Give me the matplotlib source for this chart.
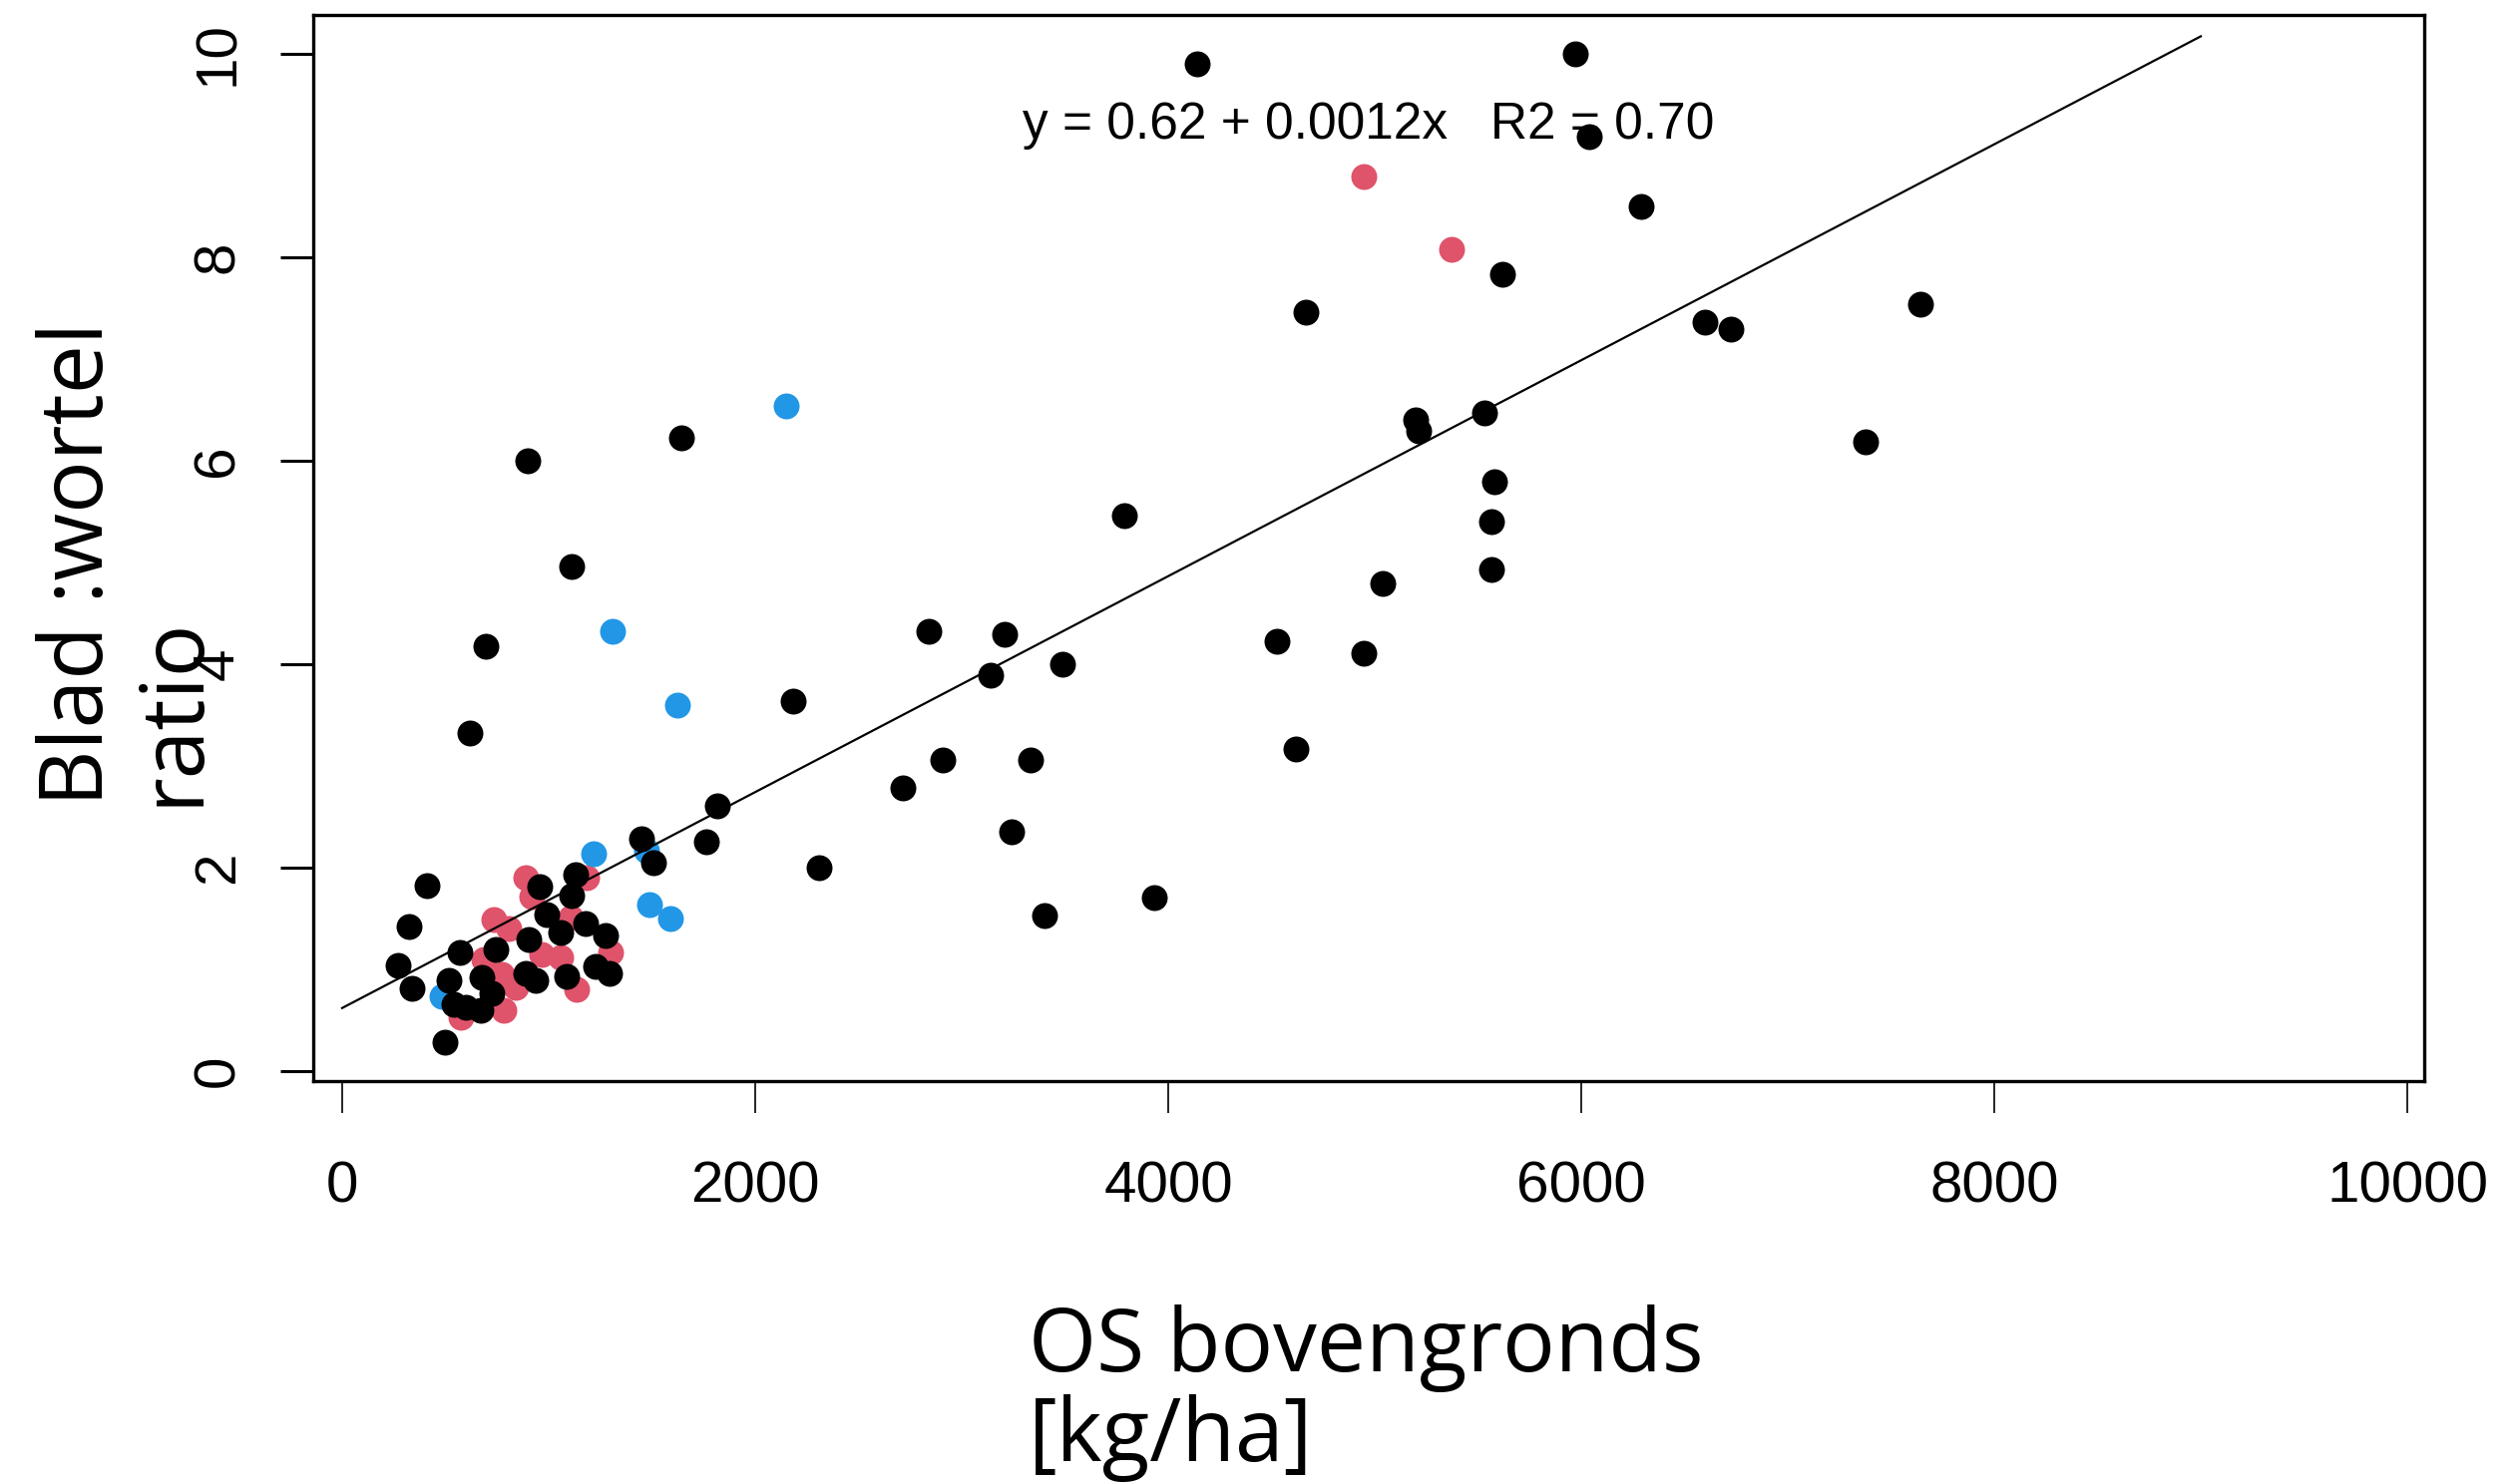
import matplotlib
matplotlib.use("Agg")
import matplotlib.pyplot as plt

# group 1 (pink)
pink_x = [887, 919, 734, 807, 686, 774, 783, 839, 968, 1056, 1137, 1105, 1185, 1300, 575, 4949, 5374]
pink_y = [1.90, 1.72, 1.49, 1.40, 1.10, 0.95, 0.60, 0.82, 1.15, 1.12, 0.80, 1.51, 1.90, 1.17, 0.53, 8.79, 8.08]

# group 2 (blue)
blue_x = [485, 1219, 1475, 1486, 1589, 1309, 1625, 2152]
blue_y = [0.74, 2.14, 2.17, 1.64, 1.50, 4.32, 3.60, 6.54]

# group 3 (black)
black_x = [271, 324, 340, 409, 498, 517, 541, 569, 597, 670, 678, 726, 742, 887, 903, 935,
           955, 992, 1060, 1085, 1111, 1129, 1177, 1225, 1274, 1294, 1450, 1507, 1765, 1816,
           618, 694, 901, 1112, 1642, 2185, 2311, 2716, 2840, 2909, 3140, 3209, 3243, 3333,
           3402, 3489, 3788, 3931, 4142, 4528, 4618, 4667, 4949, 5039, 5198, 5214, 5529,
           5566, 5566, 5582, 5619, 5971, 6040, 6289, 6600, 6726, 7376, 7641]
black_y = [1.04, 1.42, 0.81, 1.82, 0.28, 0.89, 0.66, 1.17, 0.63, 0.60, 0.92, 0.76, 1.20, 0.96, 1.29, 0.89,
           1.81, 1.54, 1.36, 0.93, 1.73, 1.93, 1.45, 1.03, 1.33, 0.96, 2.28, 2.05, 2.25, 2.61,
           3.32, 4.18, 6.00, 4.96, 6.22, 3.64, 2.00, 2.78, 4.32, 3.06, 3.89, 4.29, 2.35, 3.06,
           1.53, 4.00, 5.46, 1.71, 9.90, 4.22, 3.17, 7.46, 4.11, 4.79, 6.40, 6.29, 6.47,
           5.40, 4.93, 5.79, 7.83, 10.00, 9.18, 8.50, 7.36, 7.29, 6.18, 7.54]

# regression line as drawn
fit_x = [0, 9000]
fit_y = [0.62, 10.17]

x_ticks = [0, 2000, 4000, 6000, 8000, 10000]
y_ticks = [0, 2, 4, 6, 8, 10]

W, H = 2526, 1486
plt.rcParams['font.family'] = ['Liberation Sans', 'DejaVu Sans']

fig = plt.figure(figsize=(W / 100, H / 100), dpi=100)
ax = fig.add_axes([314 / W, 1 - 1084 / H, (2430 - 314) / W, (1084 - 15) / H])

ms = 350
ax.scatter(pink_x, pink_y, s=ms, color='#DF536B', linewidths=0, zorder=2)
ax.scatter(blue_x, blue_y, s=ms, color='#2297E6', linewidths=0, zorder=2)
ax.scatter(black_x, black_y, s=ms, color='black', linewidths=0, zorder=3)
ax.plot(fit_x, fit_y, color='black', lw=1.6, zorder=4)

ax.text(4970, 9.16, "y = 0.62 + 0.0012x   R2 = 0.70", fontsize=37,
        ha='center', va='baseline', zorder=1)

ax.set_xlim(-140, 10082)
ax.set_ylim(-0.098, 10.38)
ax.set_xticks(x_ticks)
ax.set_yticks(y_ticks)
ax.set_xticklabels([str(v) for v in x_ticks])
ax.set_yticklabels([str(v) for v in y_ticks], rotation=90, va='center')

for sp in ax.spines.values():
    sp.set_linewidth(2.4)
ax.tick_params(axis='x', length=23, width=1.2, pad=34, labelsize=42)
ax.tick_params(axis='y', length=24, width=2.2, pad=25, labelsize=42)

# axis titles, two lines each
lab_font = 'Open Sans'
fig.text(1031 / W, 1 - 1375 / H, "OS bovengronds", fontsize=63, family=lab_font,
         ha='left', va='baseline')
fig.text(1031 / W, 1 - 1465 / H, "[kg/ha]", fontsize=63, family=lab_font,
         ha='left', va='baseline')
fig.text(103 / W, 1 - 808 / H, "Blad :wortel", fontsize=63, family=lab_font,
         rotation=90, rotation_mode='anchor', ha='left', va='baseline')
fig.text(197 / W, 1 - 808 / H, "ratio", fontsize=63, family=lab_font,
         rotation=90, rotation_mode='anchor', ha='left', va='baseline')

fig.savefig("out.png", dpi=100)
